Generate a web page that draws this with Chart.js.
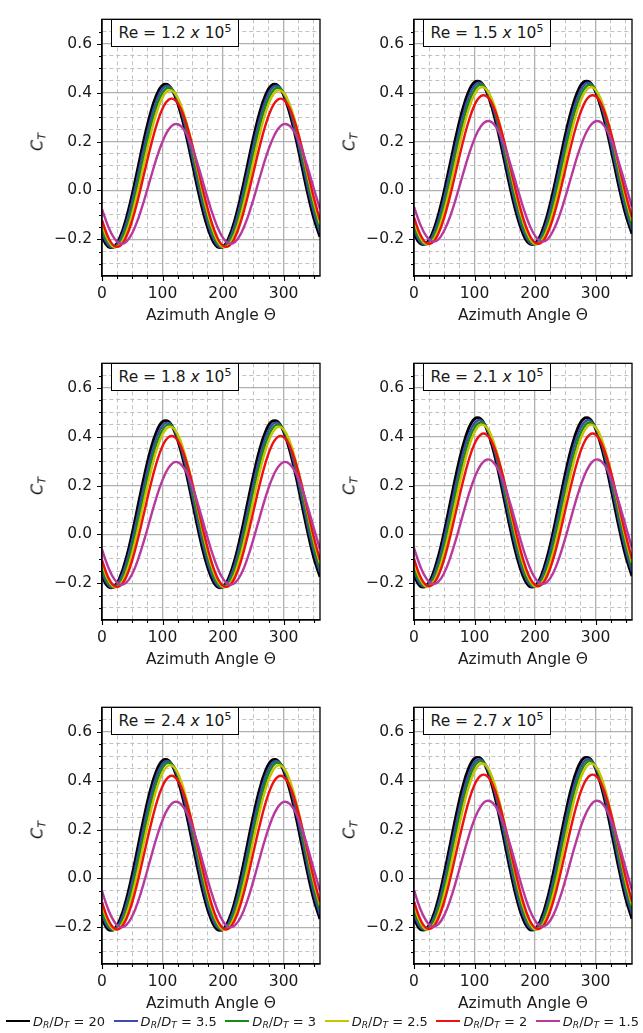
<!DOCTYPE html>
<html>
<head>
<meta charset="utf-8">
<script src="https://cdn.jsdelivr.net/npm/chart.js"></script>
<style>
  body { margin:0; background:#fff; width:643px; height:1033px; position:relative; overflow:hidden;
         font-family:'DejaVu Sans', sans-serif; color:#1a1a1a; }
  canvas { position:absolute; }
  .rebox { position:absolute; box-sizing:border-box; width:128px; height:28px; border:1.3px solid #000;
           background:#fff; font-size:15.5px; display:flex; align-items:center; justify-content:center;
           white-space:nowrap; z-index:2; }
  .rebox sup { font-size:11px; vertical-align:6px; line-height:0; }
  .ylab { position:absolute; transform:translate(-50%,-50%) rotate(-90deg); font-size:16px; white-space:nowrap; }
  .ylab sub, .lg sub { font-size:0.7em; font-style:italic; vertical-align:-0.25em; line-height:0; }
  #legend { position:absolute; left:6px; right:4px; top:1012px; height:18px; display:flex;
            justify-content:space-between; align-items:center; font-size:13px; z-index:3; }
  .lg { display:flex; align-items:center; white-space:nowrap; }
  .sw { display:inline-block; width:24px; height:2.5px; margin-right:3px; }
</style>
</head>
<body>
<div id="legend"></div>

<script>
// azimuth sample angles (deg)
var theta = [0,10,20,30,40,50,60,70,80,90,100,110,120,130,140,150,160,170,
             180,190,200,210,220,230,240,250,260,270,280,290,300,310,320,330,340,350,360];

var ratios = ['20', '3.5', '3', '2.5', '2', '1.5'];
var colors = ['#000000', '#3f4aae', '#178a17', '#c9c400', '#ee1111', '#b8399e'];

var xTicks = [0,25,50,75,100,125,150,175,200,225,250,275,300,325,350];
var xMajor = [0,100,200,300];
var yTicks = [-0.3,-0.25,-0.2,-0.15,-0.1,-0.05,0,0.05,0.1,0.15,0.2,0.25,0.3,0.35,0.4,0.45,0.5,0.55,0.6,0.65];

// C_T per panel, one row per D_R/D_T (20, 3.5, 3, 2.5, 2, 1.5)
var re12 = [
  [-.190,-.230,-.230,-.190,-.115,-.015,.100,.215,.315,.390,.430,.430,.390,.315,.215,.100,-.015,-.115,-.190,-.230,-.230,-.190,-.115,-.015,.100,.215,.315,.390,.430,.430,.390,.315,.215,.100,-.015,-.115,-.190],
  [-.173,-.222,-.232,-.202,-.136,-.042,.069,.183,.287,.368,.417,.427,.397,.331,.237,.126,.012,-.092,-.173,-.222,-.232,-.202,-.136,-.042,.069,.183,.287,.368,.417,.427,.397,.331,.237,.126,.012,-.092,-.173],
  [-.156,-.212,-.232,-.212,-.156,-.069,.037,.151,.257,.344,.400,.420,.400,.344,.257,.151,.037,-.069,-.156,-.212,-.232,-.212,-.156,-.069,.037,.151,.257,.344,.400,.420,.400,.344,.257,.151,.037,-.069,-.156],
  [-.138,-.202,-.231,-.221,-.174,-.095,.006,.117,.225,.316,.380,.409,.399,.352,.273,.172,.061,-.047,-.138,-.202,-.231,-.221,-.174,-.095,.006,.117,.225,.316,.380,.409,.399,.352,.273,.172,.061,-.047,-.138],
  [-.122,-.190,-.226,-.226,-.190,-.122,-.031,.073,.176,.267,.335,.371,.371,.335,.267,.176,.073,-.031,-.122,-.190,-.226,-.226,-.190,-.122,-.031,.073,.176,.267,.335,.371,.371,.335,.267,.176,.073,-.031,-.122],
  [-.077,-.146,-.195,-.217,-.210,-.174,-.114,-.037,.048,.131,.200,.249,.271,.264,.228,.168,.091,.006,-.077,-.146,-.195,-.217,-.210,-.174,-.114,-.037,.048,.131,.200,.249,.271,.264,.228,.168,.091,.006,-.077]
];
var re15 = [
  [-.177,-.217,-.217,-.177,-.102,-.002,.113,.228,.328,.403,.443,.443,.403,.328,.228,.113,-.002,-.102,-.177,-.217,-.217,-.177,-.102,-.002,.113,.228,.328,.403,.443,.443,.403,.328,.228,.113,-.002,-.102,-.177],
  [-.161,-.210,-.220,-.190,-.124,-.030,.081,.195,.299,.380,.429,.439,.409,.343,.249,.138,.024,-.080,-.161,-.210,-.220,-.190,-.124,-.030,.081,.195,.299,.380,.429,.439,.409,.343,.249,.138,.024,-.080,-.161],
  [-.144,-.200,-.220,-.200,-.144,-.057,.049,.163,.269,.356,.412,.432,.412,.356,.269,.163,.049,-.057,-.144,-.200,-.220,-.200,-.144,-.057,.049,.163,.269,.356,.412,.432,.412,.356,.269,.163,.049,-.057,-.144],
  [-.125,-.190,-.219,-.209,-.162,-.083,.018,.129,.238,.329,.393,.422,.412,.365,.286,.185,.074,-.034,-.125,-.190,-.219,-.209,-.162,-.083,.018,.129,.238,.329,.393,.422,.412,.365,.286,.185,.074,-.034,-.125],
  [-.110,-.178,-.214,-.214,-.178,-.110,-.019,.086,.190,.281,.349,.385,.385,.349,.281,.190,.086,-.019,-.110,-.178,-.214,-.214,-.178,-.110,-.019,.086,.190,.281,.349,.385,.385,.349,.281,.190,.086,-.019,-.110],
  [-.067,-.137,-.186,-.208,-.201,-.164,-.104,-.026,.059,.142,.212,.261,.283,.276,.239,.179,.101,.016,-.067,-.137,-.186,-.208,-.201,-.164,-.104,-.026,.059,.142,.212,.261,.283,.276,.239,.179,.101,.016,-.067]
];
var re18 = [
  [-.173,-.214,-.214,-.173,-.097,.006,.124,.241,.344,.420,.461,.461,.420,.344,.241,.124,.006,-.097,-.173,-.214,-.214,-.173,-.097,.006,.124,.241,.344,.420,.461,.461,.420,.344,.241,.124,.006,-.097,-.173],
  [-.156,-.206,-.216,-.185,-.118,-.023,.091,.207,.313,.396,.446,.456,.425,.358,.263,.149,.033,-.073,-.156,-.206,-.216,-.185,-.118,-.023,.091,.207,.313,.396,.446,.456,.425,.358,.263,.149,.033,-.073,-.156],
  [-.138,-.196,-.216,-.196,-.138,-.050,.059,.174,.283,.371,.429,.449,.429,.371,.283,.174,.059,-.050,-.138,-.196,-.216,-.196,-.138,-.050,.059,.174,.283,.371,.429,.449,.429,.371,.283,.174,.059,-.050,-.138],
  [-.120,-.185,-.215,-.205,-.157,-.076,.027,.141,.251,.344,.409,.439,.429,.381,.300,.197,.084,-.027,-.120,-.185,-.215,-.205,-.157,-.076,.027,.141,.251,.344,.409,.439,.429,.381,.300,.197,.084,-.027,-.120],
  [-.105,-.174,-.210,-.210,-.174,-.105,-.012,.094,.200,.293,.362,.398,.398,.362,.293,.200,.094,-.012,-.105,-.174,-.210,-.210,-.174,-.105,-.012,.094,.200,.293,.362,.398,.398,.362,.293,.200,.094,-.012,-.105],
  [-.061,-.132,-.182,-.205,-.197,-.161,-.099,-.020,.067,.152,.223,.273,.296,.288,.252,.190,.111,.024,-.061,-.132,-.182,-.205,-.197,-.161,-.099,-.020,.067,.152,.223,.273,.296,.288,.252,.190,.111,.024,-.061]
];
var re21 = [
  [-.170,-.211,-.211,-.170,-.092,.012,.131,.250,.354,.432,.473,.473,.432,.354,.250,.131,.012,-.092,-.170,-.211,-.211,-.170,-.092,.012,.131,.250,.354,.432,.473,.473,.432,.354,.250,.131,.012,-.092,-.170],
  [-.152,-.202,-.213,-.182,-.114,-.017,.097,.215,.323,.406,.456,.467,.436,.368,.271,.157,.039,-.069,-.152,-.202,-.213,-.182,-.114,-.017,.097,.215,.323,.406,.456,.467,.436,.368,.271,.157,.039,-.069,-.152],
  [-.135,-.193,-.213,-.193,-.135,-.045,.064,.181,.290,.380,.438,.458,.438,.380,.290,.181,.064,-.045,-.135,-.193,-.213,-.193,-.135,-.045,.064,.181,.290,.380,.438,.458,.438,.380,.290,.181,.064,-.045,-.135],
  [-.116,-.182,-.212,-.202,-.153,-.072,.032,.147,.258,.352,.418,.448,.438,.389,.308,.204,.089,-.022,-.116,-.182,-.212,-.202,-.153,-.072,.032,.147,.258,.352,.418,.448,.438,.389,.308,.204,.089,-.022,-.116],
  [-.100,-.170,-.207,-.207,-.170,-.100,-.006,.101,.207,.301,.371,.408,.408,.371,.301,.207,.101,-.006,-.100,-.170,-.207,-.207,-.170,-.100,-.006,.101,.207,.301,.371,.408,.408,.371,.301,.207,.101,-.006,-.100],
  [-.056,-.128,-.179,-.202,-.194,-.157,-.094,-.014,.074,.160,.232,.283,.306,.298,.261,.198,.118,.030,-.056,-.128,-.179,-.202,-.194,-.157,-.094,-.014,.074,.160,.232,.283,.306,.298,.261,.198,.118,.030,-.056]
];
var re24 = [
  [-.166,-.208,-.208,-.166,-.088,.017,.137,.257,.362,.440,.482,.482,.440,.362,.257,.137,.017,-.088,-.166,-.208,-.208,-.166,-.088,.017,.137,.257,.362,.440,.482,.482,.440,.362,.257,.137,.017,-.088,-.166],
  [-.149,-.199,-.210,-.179,-.110,-.012,.104,.224,.333,.418,.468,.479,.448,.379,.281,.165,.045,-.064,-.149,-.199,-.210,-.179,-.110,-.012,.104,.224,.333,.418,.468,.479,.448,.379,.281,.165,.045,-.064,-.149],
  [-.130,-.190,-.210,-.190,-.130,-.039,.072,.191,.302,.393,.453,.473,.453,.393,.302,.191,.072,-.039,-.130,-.190,-.210,-.190,-.130,-.039,.072,.191,.302,.393,.453,.473,.453,.393,.302,.191,.072,-.039,-.130],
  [-.111,-.178,-.209,-.199,-.149,-.067,.039,.156,.269,.364,.431,.462,.452,.402,.320,.214,.097,-.016,-.111,-.178,-.209,-.199,-.149,-.067,.039,.156,.269,.364,.431,.462,.452,.402,.320,.214,.097,-.016,-.111],
  [-.097,-.167,-.204,-.204,-.167,-.097,-.002,.106,.213,.308,.378,.415,.415,.378,.308,.213,.106,-.002,-.097,-.167,-.204,-.204,-.167,-.097,-.002,.106,.213,.308,.378,.415,.415,.378,.308,.213,.106,-.002,-.097],
  [-.052,-.125,-.176,-.199,-.191,-.154,-.091,-.010,.079,.166,.239,.290,.313,.305,.268,.205,.124,.035,-.052,-.125,-.176,-.199,-.191,-.154,-.091,-.010,.079,.166,.239,.290,.313,.305,.268,.205,.124,.035,-.052]
];
var re27 = [
  [-.165,-.207,-.207,-.165,-.086,.021,.142,.263,.370,.449,.491,.491,.449,.370,.263,.142,.021,-.086,-.165,-.207,-.207,-.165,-.086,.021,.142,.263,.370,.449,.491,.491,.449,.370,.263,.142,.021,-.086,-.165],
  [-.147,-.198,-.209,-.177,-.108,-.009,.108,.229,.339,.424,.475,.486,.454,.385,.286,.169,.048,-.062,-.147,-.198,-.209,-.177,-.108,-.009,.108,.229,.339,.424,.475,.486,.454,.385,.286,.169,.048,-.062,-.147],
  [-.128,-.188,-.209,-.188,-.128,-.037,.076,.195,.308,.399,.459,.480,.459,.399,.308,.195,.076,-.037,-.128,-.188,-.209,-.188,-.128,-.037,.076,.195,.308,.399,.459,.480,.459,.399,.308,.195,.076,-.037,-.128],
  [-.110,-.177,-.208,-.198,-.148,-.064,.043,.160,.274,.371,.438,.469,.459,.409,.325,.218,.101,-.013,-.110,-.177,-.208,-.198,-.148,-.064,.043,.160,.274,.371,.438,.469,.459,.409,.325,.218,.101,-.013,-.110],
  [-.094,-.165,-.202,-.202,-.165,-.094,.001,.109,.217,.312,.383,.420,.420,.383,.312,.217,.109,.001,-.094,-.165,-.202,-.202,-.165,-.094,.001,.109,.217,.312,.383,.420,.420,.383,.312,.217,.109,.001,-.094],
  [-.048,-.122,-.173,-.196,-.188,-.150,-.087,-.006,.083,.169,.243,.294,.317,.309,.271,.208,.127,.038,-.048,-.122,-.173,-.196,-.188,-.150,-.087,-.006,.083,.169,.243,.294,.317,.309,.271,.208,.127,.038,-.048]
];

var reLabels = ['1.2', '1.5', '1.8', '2.1', '2.4', '2.7'];
var panelData = [re12, re15, re18, re21, re24, re27];

var FONT = 'DejaVu Sans';
var TXT = '#1a1a1a';

function isMajorX(v) { return xMajor.indexOf(v) >= 0; }
function isMajorY(v) { return Math.round(v * 100) % 20 === 0; }

// tick marks (long major / short minor) and the full axes box
var frame = {
  id: 'frame',
  afterDraw: function(chart) {
    var ctx = chart.ctx, a = chart.chartArea, x = chart.scales.x, y = chart.scales.y;
    ctx.save();
    ctx.strokeStyle = '#000';
    ctx.lineWidth = 1.1;
    ctx.beginPath();
    x.ticks.forEach(function(t) {
      var px = Math.round(x.getPixelForValue(t.value)) + 0.5;
      var len = isMajorX(t.value) ? 5 : 3;
      ctx.moveTo(px, a.bottom); ctx.lineTo(px, a.bottom + len);
    });
    y.ticks.forEach(function(t) {
      var py = Math.round(y.getPixelForValue(t.value)) + 0.5;
      var len = isMajorY(t.value) ? 5 : 3;
      ctx.moveTo(a.left, py); ctx.lineTo(a.left - len, py);
    });
    ctx.stroke();
    ctx.lineWidth = 1.3;
    ctx.strokeRect(a.left, a.top, a.right - a.left, a.bottom - a.top);
    ctx.restore();
  }
};

function makePanel(idx) {
  var col = idx % 2, row = Math.floor(idx / 2);
  var left = col === 0 ? 0 : 312;
  var top = row * 344;
  var canvas = document.createElement('canvas');
  canvas.width = 330; canvas.height = 344;
  canvas.style.left = left + 'px'; canvas.style.top = top + 'px';
  document.body.appendChild(canvas);

  var vals = panelData[idx];
  var datasets = vals.map(function(s, i) {
    return {
      label: 'DR/DT = ' + ratios[i],
      data: theta.map(function(t, k) { return {x: t, y: s[k]}; }),
      borderColor: colors[i],
      borderWidth: i === 0 ? 2.9 : 2.4,
      pointRadius: 0,
      tension: 0.4,
      fill: false,
      clip: 0,
      order: 6 - i
    };
  });

  new Chart(canvas.getContext('2d'), {
    type: 'line',
    data: { datasets: datasets },
    options: {
      responsive: false,
      animation: false,
      events: [],
      layout: { padding: { top: 7, right: 10, bottom: 0, left: 0 } },
      plugins: { legend: { display: false }, tooltip: { enabled: false } },
      scales: {
        x: {
          type: 'linear', min: 0, max: 360,
          afterBuildTicks: function(s) { s.ticks = xTicks.map(function(v) { return {value: v}; }); },
          afterFit: function(s) { s.height = 68; },
          ticks: {
            autoSkip: false, maxRotation: 0, padding: 9, color: TXT,
            font: { family: FONT, size: 15.5 },
            callback: function(v) { return isMajorX(v) ? String(v) : ''; }
          },
          grid: {
            drawTicks: false,
            color: function(c) { return c.tick && isMajorX(c.tick.value) ? '#b0b0b0' : '#c2c2c2'; },
            lineWidth: function(c) { return c.tick && isMajorX(c.tick.value) ? 1.3 : 1; }
          },
          border: {
            color: '#000', width: 1.3,
            dash: function(c) { return c.tick && !isMajorX(c.tick.value) ? [4, 3] : []; }
          },
          title: {
            display: true, text: 'Azimuth Angle \u0398', color: TXT,
            font: { family: FONT, size: 15.5 }, padding: { top: 0, bottom: 18.7 }
          }
        },
        y: {
          type: 'linear', min: -0.35, max: 0.7,
          afterBuildTicks: function(s) { s.ticks = yTicks.map(function(v) { return {value: v}; }); },
          afterFit: function(s) { s.width = 102; },
          ticks: {
            autoSkip: false, padding: 10, color: TXT,
            font: { family: FONT, size: 15.5 },
            callback: function(v) { return isMajorY(v) ? v.toFixed(1).replace('-', '\u2212') : ''; }
          },
          grid: {
            drawTicks: false,
            color: function(c) { return c.tick && isMajorY(c.tick.value) ? '#b0b0b0' : '#c2c2c2'; },
            lineWidth: function(c) { return c.tick && isMajorY(c.tick.value) ? 1.3 : 1; }
          },
          border: {
            color: '#000', width: 1.3,
            dash: function(c) { return c.tick && !isMajorY(c.tick.value) ? [4, 3] : []; }
          }
        }
      }
    },
    plugins: [frame]
  });

  // Reynolds-number box and C_T axis label
  var plotLeft = left + 102, plotTop = top + 7;
  var box = document.createElement('div');
  box.className = 'rebox';
  box.style.left = (plotLeft + 9) + 'px';
  box.style.top = (plotTop + 12) + 'px';
  box.innerHTML = '<span>Re = ' + reLabels[idx] + ' <i>x</i> 10<sup>5</sup></span>';
  document.body.appendChild(box);

  var yl = document.createElement('div');
  yl.className = 'ylab';
  yl.style.left = (plotLeft - 65) + 'px';
  yl.style.top = (plotTop + 134.5) + 'px';
  yl.innerHTML = '<i>C</i><sub>T</sub>';
  document.body.appendChild(yl);
}

for (var p = 0; p < 6; p++) makePanel(p);

// shared legend under the panels
var lg = document.getElementById('legend');
ratios.forEach(function(r, i) {
  var it = document.createElement('span');
  it.className = 'lg';
  it.innerHTML = '<span class="sw" style="background:' + colors[i] + '"></span>' +
    '<span><i>D</i><sub>R</sub>/<i>D</i><sub>T</sub> = ' + r + '</span>';
  lg.appendChild(it);
});
</script>
</body>
</html>
